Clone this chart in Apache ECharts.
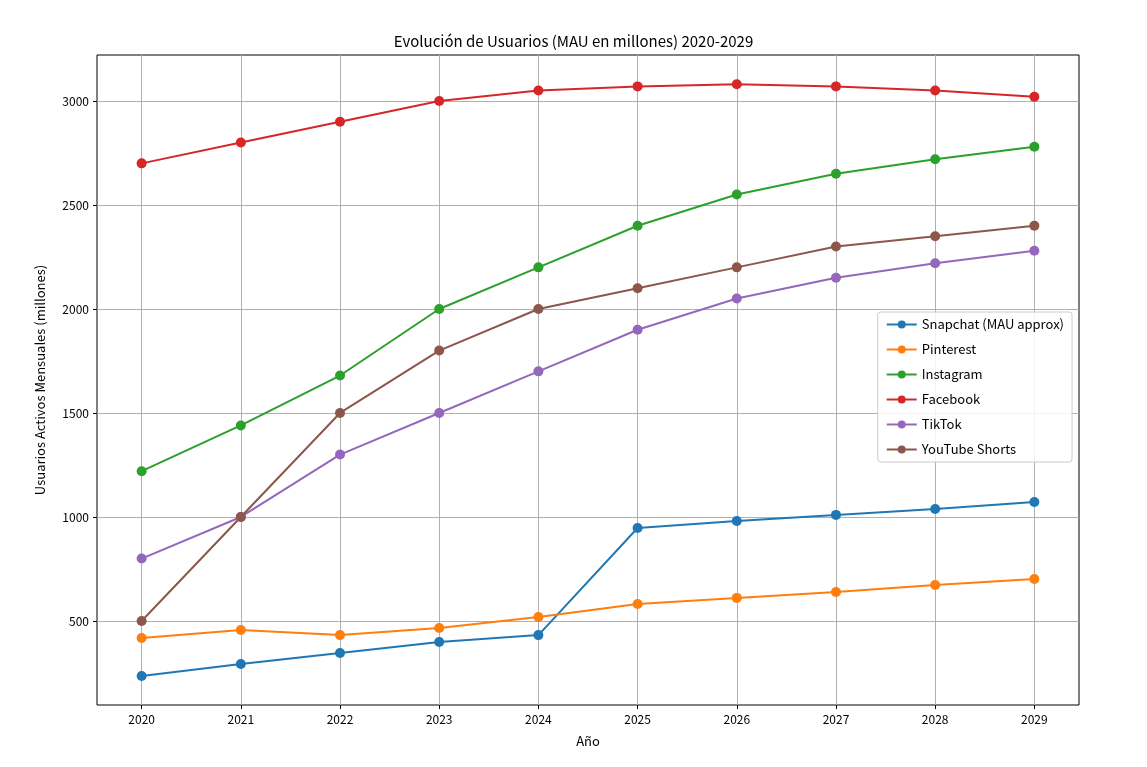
<!DOCTYPE html>
<html>
<head>
<meta charset="utf-8">
<script src="https://cdn.jsdelivr.net/npm/echarts@6/dist/echarts.min.js"></script>
<style>
  html, body { margin: 0; padding: 0; background: #fff; }
  #chart { width: 1147px; height: 767px; }
</style>
</head>
<body>
<div id="chart"></div>
<script>
const years = [2020, 2021, 2022, 2023, 2024, 2025, 2026, 2027, 2028, 2029];
const snapchat = [235, 293, 346, 399, 432, 947, 981, 1010, 1038, 1072];
const pinterest = [418, 457, 432, 466, 519, 582, 611, 639, 673, 702];
const instagram = [1220, 1440, 1680, 2000, 2200, 2400, 2550, 2650, 2720, 2780];
const facebook = [2700, 2800, 2900, 3000, 3050, 3070, 3080, 3070, 3050, 3020];
const tiktok = [800, 1000, 1300, 1500, 1700, 1900, 2050, 2150, 2220, 2280];
const youtubeShorts = [500, 1000, 1500, 1800, 2000, 2100, 2200, 2300, 2350, 2400];
const yTicks = [500, 1000, 1500, 2000, 2500, 3000];

const seriesDefs = [
  { name: 'Snapchat (MAU approx)', data: snapchat, color: '#1f77b4' },
  { name: 'Pinterest', data: pinterest, color: '#ff7f0e' },
  { name: 'Instagram', data: instagram, color: '#2ca02c' },
  { name: 'Facebook', data: facebook, color: '#d62728' },
  { name: 'TikTok', data: tiktok, color: '#9467bd' },
  { name: 'YouTube Shorts', data: youtubeShorts, color: '#8c564b' }
];

const font = 'Noto Sans CJK JP';
const chart = echarts.init(document.getElementById('chart'));
chart.setOption({
  animation: false,
  textStyle: { fontFamily: font, color: '#000' },
  title: {
    text: 'Evolución de Usuarios (MAU en millones) 2020-2029',
    left: 'center', top: 29,
    textStyle: { fontFamily: font, fontSize: 15, fontWeight: 'normal', color: '#000' }
  },
  grid: {
    left: 97, right: 68, top: 55, bottom: 62,
    show: true, borderColor: '#000', borderWidth: 1
  },
  legend: {
    orient: 'vertical', right: 75, top: 312,
    itemWidth: 30, itemHeight: 10, itemGap: 12,
    padding: [6, 8], borderColor: '#ccc', borderWidth: 1, borderRadius: 3,
    backgroundColor: 'rgba(255,255,255,0.85)',
    textStyle: { fontFamily: font, fontSize: 13, color: '#000' },
    data: seriesDefs.map(s => s.name)
  },
  xAxis: {
    type: 'value', min: 2019.55, max: 2029.45,
    name: 'Año', nameLocation: 'middle', nameGap: 30,
    nameTextStyle: { fontFamily: font, fontSize: 13, color: '#000' },
    axisLine: { show: false },
    axisTick: { show: true, customValues: years, length: 4, lineStyle: { color: '#000' } },
    axisLabel: { customValues: years, fontSize: 12, color: '#000', formatter: v => String(v) },
    splitLine: { show: true, lineStyle: { color: '#b0b0b0', width: 1 } }
  },
  yAxis: {
    type: 'value', min: 96, max: 3221,
    name: 'Usuarios Activos Mensuales (millones)', nameLocation: 'middle', nameGap: 50,
    nameTextStyle: { fontFamily: font, fontSize: 13, color: '#000' },
    axisLine: { show: false },
    axisTick: { show: true, customValues: yTicks, length: 4, lineStyle: { color: '#000' } },
    axisLabel: { customValues: yTicks, fontSize: 12, color: '#000', formatter: v => String(v) },
    splitLine: { show: true, lineStyle: { color: '#b0b0b0', width: 1 } }
  },
  series: seriesDefs.map(s => ({
    name: s.name, type: 'line',
    data: years.map((y, i) => [y, s.data[i]]),
    symbol: 'circle', symbolSize: 10,
    lineStyle: { color: s.color, width: 2 },
    itemStyle: { color: s.color }
  }))
});
</script>
</body>
</html>
